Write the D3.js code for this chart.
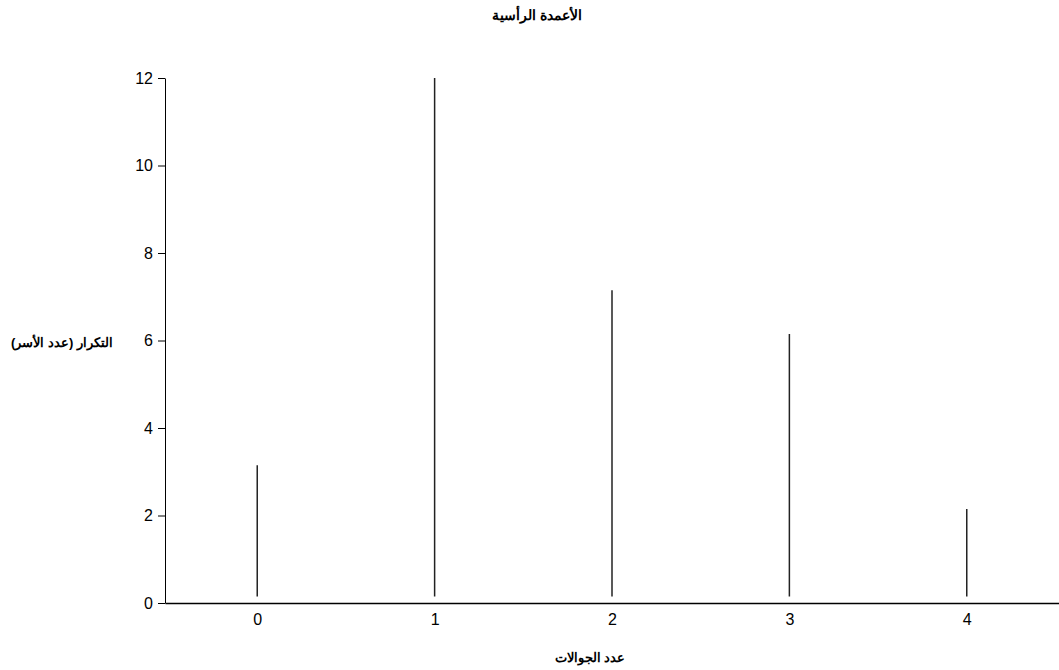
<!DOCTYPE html>
<html><head><meta charset="utf-8">
<script src="https://cdn.jsdelivr.net/npm/d3@7"></script>
<style>body{margin:0;background:#fff;font-family:"Liberation Sans",Arial,sans-serif}</style>
</head><body><svg id="c" width="1059" height="670"></svg>
<script>
const categories = [0, 1, 2, 3, 4];
const frequencies = [3, 12, 7, 6, 2];
const yTicks = [0, 2, 4, 6, 8, 10, 12];
const titleText = "الأعمدة الرأسية";
const xLabel = "عدد الجوالات";
const yLabel = "التكرار (عدد الأسر)";

const svg = d3.select("#c");
const x = d3.scaleLinear().domain([-0.52, 4.52]).range([165, 1059]);
const y = d3.scaleLinear().domain([0, 12]).range([603, 78]);
const lift = 0.15;

svg.append("text").attr("x", 537).attr("y", 20).attr("text-anchor", "middle")
  .attr("font-size", 14).attr("font-weight", "bold").text(titleText);

const ya = svg.append("g").attr("transform", "translate(165,0)")
  .call(d3.axisLeft(y).tickValues(yTicks).tickSize(7).tickPadding(5).tickSizeOuter(0));
ya.selectAll("text").attr("font-size", 16).attr("font-family", "Liberation Sans, Arial, sans-serif").attr("fill", "#000");
ya.selectAll("line,path").attr("stroke", "#000");

const xa = svg.append("g").attr("transform", "translate(0,603)")
  .call(d3.axisBottom(x).tickValues(categories).tickFormat(d3.format("d")).tickSize(0).tickPadding(11).tickSizeOuter(0));
xa.selectAll("text").attr("font-size", 16).attr("font-family", "Liberation Sans, Arial, sans-serif").attr("fill", "#000");
xa.select("path").attr("stroke", "#000").attr("stroke-width", 1.5);

svg.append("g").selectAll("line").data(categories).join("line")
  .attr("x1", d => x(d)).attr("x2", d => x(d))
  .attr("y1", (d, i) => y(lift))
  .attr("y2", (d, i) => y(Math.min(frequencies[i] + lift, 12)))
  .attr("stroke", "#222").attr("stroke-width", 1.5);

svg.append("text").attr("x", 113).attr("y", 347).attr("text-anchor", "start")
  .attr("direction", "rtl").attr("font-size", 13).attr("font-weight", "bold").text(yLabel);
svg.append("text").attr("x", 590).attr("y", 662).attr("text-anchor", "middle")
  .attr("font-size", 13).attr("font-weight", "bold").text(xLabel);
</script></body></html>
